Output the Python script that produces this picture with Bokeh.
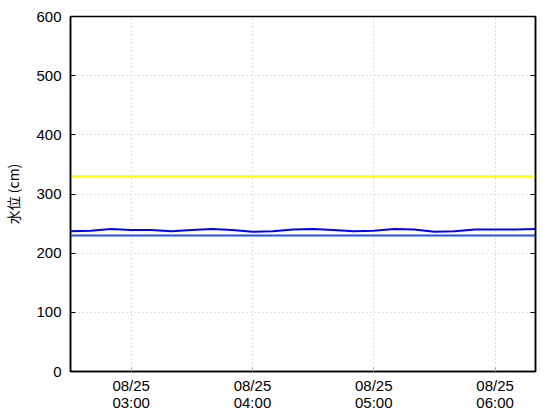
import pandas as pd
from bokeh.plotting import figure
from bokeh.models import LinearAxis, FixedTicker, DatetimeTickFormatter, Range1d, CustomJSTickFormatter
from bokeh.embed import file_html
from bokeh.resources import INLINE

# data
times = pd.date_range("2023-08-25 02:30", "2023-08-25 06:20", freq="10min")
level = [237, 238, 241, 239, 239, 237, 239, 241, 239, 236, 237, 240,
         241, 239, 237, 238, 241, 240, 236, 237, 240, 240, 240, 241]
ref_low = 230     # blue reference line
ref_high = 330    # yellow reference line
y_ticks = [0, 100, 200, 300, 400, 500, 600]
x_ticks = pd.to_datetime(["2023-08-25 03:00", "2023-08-25 04:00",
                          "2023-08-25 05:00", "2023-08-25 06:00"])

FONT = "Noto Sans CJK JP"
TFONT = "Liberation Sans"

p = figure(width=560, height=420, x_axis_type="datetime",
           output_backend="svg", toolbar_location=None,
           x_range=Range1d(times[0], times[-1]), y_range=Range1d(0, 600),
           min_border_left=68, min_border_right=25, min_border_top=16,
           min_border_bottom=49)
p.outline_line_color = "black"
p.outline_line_width = 1.5
p.background_fill_color = "white"
p.border_fill_color = "white"

p.line(times, [ref_high] * len(times), line_color="#ffff00", line_width=2)
p.line(times, [ref_low] * len(times), line_color="#1f4fff", line_width=2)
p.line(times, level, line_color="#0000ff", line_width=2)

tick_ms = [t.value / 1e6 for t in x_ticks]
xa = p.xaxis[0]
xa.ticker = FixedTicker(ticks=tick_ms)
fmt = "%m/%d\n%H:%M"
xa.formatter = DatetimeTickFormatter(hours=fmt, hourmin=fmt, minutes=fmt,
                                     minsec=fmt, days=fmt, context=None)
xa.major_tick_in = 4
xa.major_tick_out = 0
xa.minor_tick_line_color = None
xa.major_tick_line_color = "#aaaaaa"
xa.axis_line_color = "black"
xa.axis_line_width = 1.5
xa.major_label_text_font = TFONT
xa.major_label_text_font_size = "15px"
xa.major_label_text_line_height = 1.0
xa.major_label_text_color = "black"
xa.major_label_standoff = 5

ya = p.yaxis[0]
ya.ticker = FixedTicker(ticks=y_ticks)
ya.major_tick_in = 5
ya.major_tick_out = 0
ya.minor_tick_line_color = None
ya.major_tick_line_color = "black"
ya.axis_line_color = "black"
ya.axis_line_width = 1.5
ya.major_label_text_font = TFONT
ya.major_label_text_font_size = "15px"
ya.major_label_text_color = "black"
ya.major_label_standoff = 9
ya.axis_label = "水位 (cm)"
ya.axis_label_text_font = FONT
ya.axis_label_text_font_size = "14px"
ya.axis_label_text_font_style = "normal"
ya.axis_label_text_color = "black"
ya.axis_label_standoff = 10

ra = LinearAxis(ticker=FixedTicker(ticks=y_ticks),
                formatter=CustomJSTickFormatter(code="return ''"))
ra.major_tick_in = 5
ra.major_tick_out = 0
ra.minor_tick_line_color = None
ra.major_label_standoff = 0
ra.axis_line_color = "black"
ra.axis_line_width = 1.5
p.add_layout(ra, "right")

for g in (p.xgrid[0], p.ygrid[0]):
    g.grid_line_color = "#c4c4c4"
    g.grid_line_dash = "1 3"
    g.grid_line_width = 1
p.ygrid[0].ticker = FixedTicker(ticks=y_ticks)
p.xgrid[0].ticker = FixedTicker(ticks=tick_ms)

open("out.html", "w").write(file_html(p, INLINE))
